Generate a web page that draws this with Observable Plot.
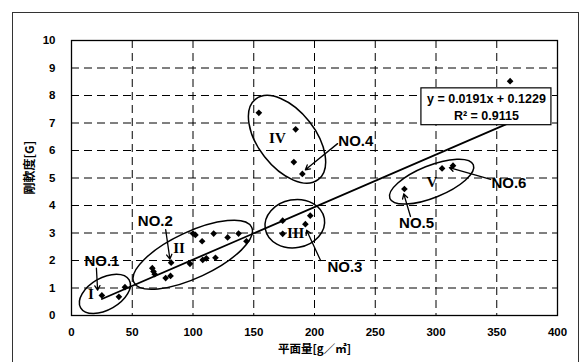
<!DOCTYPE html>
<html><head><meta charset="utf-8">
<script src="https://cdn.jsdelivr.net/npm/d3@7"></script>
<script src="https://cdn.jsdelivr.net/npm/@observablehq/plot@0.6"></script>
<style>
body{margin:0;background:#fff;}
#wrap{position:relative;width:583px;height:362px;overflow:hidden;background:#fff;}
#frame{position:absolute;left:12px;top:12px;width:567px;height:400px;border:1px solid #333;box-sizing:border-box;}
#wrap svg{position:absolute;left:0;top:0;}
</style></head><body><div id="wrap"><div id="frame"></div></div>
<script>
// data points (x: 平面量 g/m², y: 剛軟度 G)
const ptX = [25, 39, 44, 66.5, 67.5, 68.5, 77.5, 81.5, 82, 97.5, 100, 102, 107.5, 108, 111, 118.5, 117, 128.5, 137.5, 144, 173.8, 173.8, 192.5, 196.5, 154.2, 184.5, 183, 190, 274, 305, 314, 361];
const ptY = [0.73, 0.68, 1.03, 1.72, 1.6, 1.5, 1.36, 1.44, 1.92, 1.88, 2.98, 2.93, 2.7, 2.02, 2.08, 2.1, 2.98, 2.84, 2.98, 2.7, 3.45, 2.97, 3.32, 3.63, 7.37, 6.77, 5.58, 5.15, 4.6, 5.35, 5.45, 8.52];

// trend line y = 0.0191x + 0.1229
const slope = 0.0191, intercept = 0.1229;
const trendRange = [25, 358];
const eqText = ["y = 0.0191x + 0.1229", "R² = 0.9115"];

// tick labels
const xTicks = [0, 50, 100, 150, 200, 250, 300, 350, 400];
const yTicks = [0, 1, 2, 3, 4, 5, 6, 7, 8, 9, 10];
const xTitle = "平面量[g／㎡]";
const yTitle = "剛軟度[G]";

// annotations
const noNames = ["NO.1", "NO.2", "NO.3", "NO.4", "NO.5", "NO.6"];
const noX = [25, 69, 225, 234, 284, 360];
const noY = [1.96, 3.42, 1.76, 6.33, 3.35, 4.82];
const arrX1 = [20.5, 77.5, 205, 219, 279, 345];
const arrY1 = [1.72, 3.12, 2.0, 6.25, 3.6, 4.95];
const arrX2 = [21.5, 81, 193.5, 192.5, 273.5, 311];
const arrY2 = [0.92, 2.05, 3.1, 5.3, 4.42, 5.38];

const romanNames = ["I", "II", "III", "IV", "V"];
const romanX = [16, 88.5, 184.5, 169.5, 296.6];
const romanY = [0.78, 2.46, 2.98, 6.43, 4.85];

// ellipse groups: centre in data units
const ellCX = [27.9, 100.2, 184.2, 177.8, 296.8];
const ellCY = [0.77, 2.19, 3.32, 6.39, 4.85];
const ellRX = [28, 65, 30, 51, 45];
const ellRY = [16, 23, 24, 28.5, 16];
const ellAng = [-30, -25, -10, 52, -22];

const points = ptX.map((x, i) => ({x, y: ptY[i]}));
const trend = trendRange.map(x => ({x, y: slope * x + intercept}));
const noLabels = noNames.map((t, i) => ({t, x: noX[i], y: noY[i]}));
const arrows = arrX1.map((x1, i) => ({x1, y1: arrY1[i], x2: arrX2[i], y2: arrY2[i]}));
const romans = romanNames.map((t, i) => ({t, x: romanX[i], y: romanY[i]}));

const font = "'Liberation Sans', Arial, sans-serif";
const cjk = "'Noto Sans CJK JP', 'Liberation Sans', sans-serif";

const plot = Plot.plot({
  width: 583, height: 362,
  marginLeft: 71, marginRight: 26, marginTop: 40, marginBottom: 47,
  style: {fontFamily: font, fontWeight: "bold", fontSize: "11.5px", background: "transparent", color: "#000", overflow: "visible"},
  x: {domain: [0, 400], ticks: xTicks, tickSize: 0, tickPadding: 12, label: null},
  y: {domain: [0, 10], ticks: yTicks, tickSize: 0, tickPadding: 16, label: null},
  marks: [
    Plot.ruleX(xTicks.slice(1, -1), {stroke: "#000", strokeDasharray: "8,5", strokeWidth: 1}),
    Plot.ruleY(yTicks.slice(1, -1), {stroke: "#000", strokeDasharray: "8,5", strokeWidth: 1}),
    Plot.frame({stroke: "#000", strokeWidth: 1.3}),
    Plot.line(trend, {x: "x", y: "y", stroke: "#000", strokeWidth: 1.8}),
    Plot.dot(points, {x: "x", y: "y", symbol: "diamond2", fill: "#000", r: 3}),
    Plot.arrow(arrows, {x1: "x1", y1: "y1", x2: "x2", y2: "y2", stroke: "#000", strokeWidth: 1.3, headLength: 6}),
    Plot.text(noLabels, {x: "x", y: "y", text: "t", fontSize: 15, fontWeight: "bold", fill: "#000"}),
    Plot.text(romans, {x: "x", y: "y", text: "t", fontSize: 15, fontWeight: "bold", fontFamily: "'Liberation Serif', 'Times New Roman', serif", fill: "#000"}),
    Plot.rect([{x1: 288, x2: 395, y1: 6.92, y2: 8.26}], {x1: "x1", x2: "x2", y1: "y1", y2: "y2", fill: "#fff", stroke: "#000", strokeWidth: 1.2}),
    Plot.text([{t: eqText[0], x: 341.5, y: 7.87}, {t: eqText[1], x: 341.5, y: 7.25}], {x: "x", y: "y", text: "t", fontSize: 12.5, fontWeight: "bold", fill: "#000"}),
    Plot.text([xTitle], {frameAnchor: "bottom", dy: 37, fontSize: 11.5, fontWeight: "bold", fontFamily: cjk, fill: "#000"}),
    Plot.text([{t: yTitle, y: 4.4}], {y: "y", text: "t", frameAnchor: "left", dx: -41, rotate: -90, fontSize: 12, fontWeight: "bold", fontFamily: cjk, fill: "#000"})
  ]
});

// group ellipses drawn through the plot's scales
const sx = plot.scale("x"), sy = plot.scale("y");
const g = d3.select(plot).append("g").attr("fill", "none").attr("stroke", "#000").attr("stroke-width", 1.5);
ellCX.forEach((cx, i) => {
  const px = sx.apply(cx), py = sy.apply(ellCY[i]);
  g.append("ellipse").attr("cx", px).attr("cy", py).attr("rx", ellRX[i]).attr("ry", ellRY[i])
    .attr("transform", `rotate(${ellAng[i]},${px},${py})`);
});

document.getElementById("wrap").appendChild(plot);
</script>
</body></html>
